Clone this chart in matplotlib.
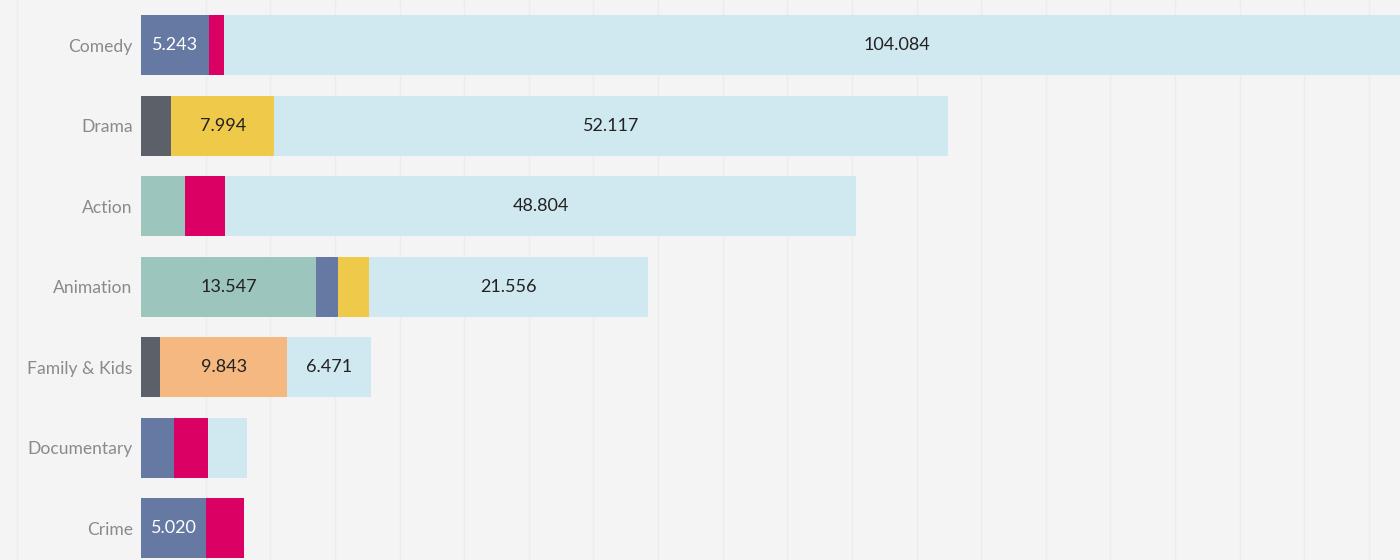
import matplotlib.pyplot as plt
from matplotlib.lines import Line2D

# genres, top to bottom
genres = ['Comedy', 'Drama', 'Action', 'Animation', 'Family & Kids', 'Documentary', 'Crime']

# stacked segments, left to right (estimated where not labelled)
teal = [0, 0, 3410, 13547, 0, 0, 0]
dark = [0, 2330, 0, 0, 1470, 0, 0]
blue = [5243, 0, 0, 1700, 0, 2560, 5020]
red = [1160, 0, 3100, 0, 0, 2640, 2950]
yellow = [0, 7994, 0, 2400, 0, 0, 0]
orange = [0, 0, 0, 0, 9843, 0, 0]
light = [104084, 52117, 48804, 21556, 6471, 3020, 0]

series = [teal, dark, blue, red, yellow, orange, light]
colors = ['#9cc5bd', '#5b6069', '#6679a3', '#db0064', '#eec94a', '#f4b880', '#d0e8ef']
text_colors = ['#222222', 'white', 'white', 'white', '#222222', '#222222', '#222222']

bg = '#f4f4f4'
fig = plt.figure(figsize=(14, 5.6), dpi=100, facecolor=bg)
ax = fig.add_axes([141 / 1400, 0, 1 - 141 / 1400, 1], facecolor=bg)

ypos = list(range(len(genres)))
left = [0] * len(genres)
for vals, c, tc in zip(series, colors, text_colors):
    ax.barh(ypos, vals, left=left, height=0.745, color=c, linewidth=0, zorder=2)
    for i, v in enumerate(vals):
        if v >= 4500:
            label = f'{v:,}'.replace(',', '.')
            ax.text(left[i] + v / 2, i, label, ha='center', va='center',
                    fontsize=13, color=tc, family='Lato', zorder=3)
    left = [l + v for l, v in zip(left, vals)]

ax.set_xlim(0, 97400)
ax.set_ylim(6.394, -0.559)
ax.set_xticks(range(5000, 100000, 5000))
ax.grid(axis='x', color='#ececec', linewidth=1, zorder=0)
ax.tick_params(left=False, bottom=False, labelbottom=False, length=0)
ax.set_yticks(ypos)
ax.set_yticklabels(genres, fontsize=12.6, color='#8a8a8a', family='Lato')
ax.tick_params(axis='y', pad=6)
for s in ax.spines.values():
    s.set_visible(False)

# faint pane border on the far left
fig.add_artist(Line2D([17 / 1400, 17 / 1400], [0, 1], color='#ececec', linewidth=1))

fig.savefig('out.png', dpi=100, facecolor=bg)
